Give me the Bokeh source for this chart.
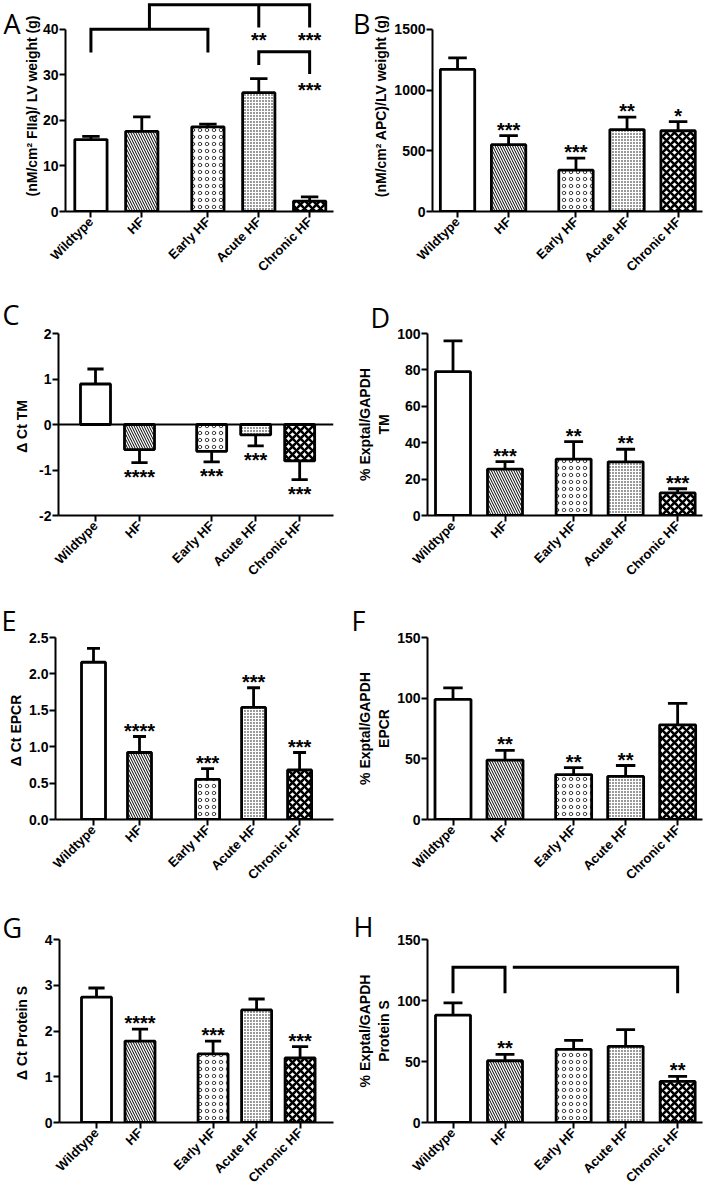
import math
from bokeh.plotting import figure
from bokeh.layouts import column, row
from bokeh.models import (FixedTicker, Span, ColumnDataSource, NumeralTickFormatter,
                          LinearAxis)
from bokeh.core.properties import value
from bokeh.embed import file_html
from bokeh.resources import INLINE

# ---------------- data ----------------
categories = ["Wildtype", "HF", "Early HF", "Acute HF", "Chronic HF"]

a_values = [15.8, 17.6, 18.6, 26.1, 2.3]
a_errors = [0.7, 3.2, 0.6, 3.1, 0.9]
a_stars = ["", "", "", "", ""]
a_bracket_stars = ["**", "***", "***"]

b_values = [1170, 550, 340, 675, 665]
b_errors = [95, 75, 100, 103, 75]
b_stars = ["", "***", "***", "**", "*"]

c_values = [0.89, -0.55, -0.59, -0.23, -0.80]
c_errors = [0.33, 0.29, 0.23, 0.24, 0.41]
c_stars = ["", "****", "***", "***", "***"]

d_values = [79, 25.5, 31, 29.5, 12.4]
d_errors = [17, 4.1, 9.6, 6.9, 2.3]
d_stars = ["", "***", "**", "**", "***"]

e_values = [2.16, 0.92, 0.55, 1.54, 0.68]
e_errors = [0.19, 0.22, 0.15, 0.27, 0.24]
e_stars = ["", "****", "***", "***", "***"]

f_values = [99, 49, 37, 35.5, 78]
f_errors = [9.5, 8, 5.7, 9, 17.7]
f_stars = ["", "**", "**", "**", ""]

g_values = [2.74, 1.78, 1.50, 2.46, 1.41]
g_errors = [0.20, 0.26, 0.28, 0.24, 0.25]
g_stars = ["", "****", "***", "", "***"]

h_values = [88, 50.6, 60, 62.4, 33.7]
h_errors = [10, 5.2, 7.3, 13.7, 4.1]
h_stars = ["", "**", "", "", "**"]

a_yticks = [0, 10, 20, 30, 40]
b_yticks = [0, 500, 1000, 1500]
c_yticks = [-2, -1, 0, 1, 2]
d_yticks = [0, 20, 40, 60, 80, 100]
e_yticks = [0, 0.5, 1.0, 1.5, 2.0, 2.5]
f_yticks = [0, 50, 100, 150]
g_yticks = [0, 1, 2, 3, 4]
h_yticks = [0, 50, 100, 150]

a_ylabel = "(nM/cm² FIIa)/ LV weight (g)"
b_ylabel = "(nM/cm² APC)/LV weight (g)"
c_ylabel = "Δ Ct  TM"
d_ylabel = "% Exptal/GAPDH\nTM"
e_ylabel = "Δ Ct  EPCR"
f_ylabel = "% Exptal/GAPDH\nEPCR"
g_ylabel = "Δ Ct  Protein S"
h_ylabel = "% Exptal/GAPDH\nProtein S"

# ---------------- styles ----------------
FONT = "Liberation Sans"
LETTER_FONT = "Open Sans"
LETTER_SIZE = "27px"
STAR_SIZE = "20px"
STYLE = {
    "Wildtype":   dict(hatch=" ",  scale=6, weight=1.0),
    "HF":         dict(hatch="\\", scale=5, weight=1.0),
    "Early HF":   dict(hatch="o",  scale=7, weight=0.7),
    "Acute HF":   dict(hatch=".",  scale=3, weight=0.5),
    "Chronic HF": dict(hatch="x",  scale=8, weight=2.6),
}
AXIS_PX = 183.0  # pixel height of the y axis in every panel


def make_panel(vals, errs, stars, ylabel, yticks, gap, pad_px, unit_px, bar_px,
               fig_w, fig_h, bl, br, bt, bb, label_standoff, fmt=None, zero_line=False):
    frame_w = fig_w - bl - br
    frame_h = fig_h - bt - bb
    pos = [0.0, 1.0, 1.0 + gap, 2.0 + gap, 3.0 + gap]
    x_lo = -pad_px / unit_px
    x_hi = x_lo + frame_w / unit_px
    ylo, ytop = yticks[0], yticks[-1]
    px_per_unit = AXIS_PX / (ytop - ylo)
    y_hi = ylo + frame_h / px_per_unit

    p = figure(width=fig_w, height=fig_h, x_range=(x_lo, x_hi), y_range=(ylo, y_hi),
               output_backend="svg", toolbar_location=None,
               min_border_left=bl, min_border_right=br, min_border_top=bt, min_border_bottom=bb)
    p.outline_line_color = None
    p.xgrid.visible = False
    p.ygrid.visible = False
    p.background_fill_color = "white"
    p.border_fill_color = "white"

    bw = bar_px / unit_px
    src = ColumnDataSource(dict(
        x=pos,
        top=[max(v, 0) for v in vals],
        bottom=[min(v, 0) for v in vals],
        hatch=[STYLE[c]["hatch"] for c in categories],
        hscale=[STYLE[c]["scale"] for c in categories],
        hweight=[STYLE[c]["weight"] for c in categories],
    ))
    p.vbar(x="x", top="top", bottom="bottom", width=bw, source=src,
           fill_color="white", line_color="black", line_width=2.8,
           hatch_pattern="hatch", hatch_scale="hscale", hatch_weight="hweight",
           hatch_color="black")

    ends = [v + e if v >= 0 else v - e for v, e in zip(vals, errs)]
    cw = bw * 0.27
    p.segment(x0=pos, y0=vals, x1=pos, y1=ends, line_color="black", line_width=2.8)
    p.segment(x0=[x - cw for x in pos], y0=ends, x1=[x + cw for x in pos], y1=ends,
              line_color="black", line_width=2.8)

    if zero_line:
        p.add_layout(Span(location=0, dimension="width", line_color="black", line_width=2))

    ssrc = ColumnDataSource(dict(x=pos, y=ends, t=stars,
                                 off=[-6 if v >= 0 else 14 for v in vals]))
    p.text(x="x", y="y", text="t", y_offset="off", source=ssrc,
           text_align="center", text_baseline="alphabetic",
           text_font=value(FONT), text_font_style="bold", text_font_size=STAR_SIZE,
           text_color="black")

    # axes
    p.xaxis.ticker = FixedTicker(ticks=pos)
    p.xaxis.major_label_overrides = {x: c for x, c in zip(pos, categories)}
    p.xaxis.major_label_orientation = math.pi / 4
    p.xaxis.major_label_text_font = FONT
    p.xaxis.major_label_text_font_style = "bold"
    p.xaxis.major_label_text_font_size = "13px"
    p.xaxis.major_label_standoff = 2
    p.xaxis.minor_tick_line_color = None

    p.yaxis.ticker = FixedTicker(ticks=yticks)
    p.yaxis.bounds = (ylo, ytop)
    p.yaxis.major_label_text_font = FONT
    p.yaxis.major_label_text_font_style = "bold"
    p.yaxis.major_label_text_font_size = "14px"
    p.yaxis.major_label_standoff = 1
    p.yaxis.minor_tick_line_color = None
    p.yaxis.axis_label = ylabel
    p.yaxis.axis_label_text_font = FONT
    p.yaxis.axis_label_text_font_style = "bold"
    p.yaxis.axis_label_text_font_size = "14px"
    p.yaxis.axis_label_standoff = label_standoff
    if fmt:
        p.yaxis.formatter = NumeralTickFormatter(format=fmt)
    if ylo < 0:
        p.yaxis.major_label_overrides = {t: ("-%d" % -t) for t in yticks if t < 0}

    for ax in (p.xaxis[0], p.yaxis[0]):
        ax.axis_line_width = 2
        ax.axis_line_color = "black"
        ax.major_tick_line_width = 2
        ax.major_tick_line_color = "black"
        ax.major_tick_out = 6
        ax.major_tick_in = 0
        ax.major_label_text_color = "black"
        ax.axis_label_text_color = "black"
    return p, pos, px_per_unit


def letter_axis(p, letter, yval):
    """panel letter as the only label of an extra, invisible left axis (row 1)"""
    ax = LinearAxis(ticker=FixedTicker(ticks=[yval]), major_label_overrides={yval: letter},
                    axis_line_color=None, major_tick_line_color=None,
                    minor_tick_line_color=None, major_tick_out=0, major_tick_in=0,
                    major_label_standoff=0, major_label_orientation="horizontal",
                    major_label_text_font=LETTER_FONT, major_label_text_font_size=LETTER_SIZE,
                    major_label_text_font_style="normal", major_label_text_color="black")
    p.add_layout(ax, "left")


def letter_title(p, letter, offset, standoff):
    p.title.text = letter
    p.title.align = "left"
    p.title.offset = offset
    p.title.standoff = standoff
    p.title.vertical_align = "bottom"
    p.title.text_font = LETTER_FONT
    p.title.text_font_size = LETTER_SIZE
    p.title.text_font_style = "normal"
    p.title.text_color = "black"


def bracket(p, xs, ys, width=3):
    p.multi_line(xs=xs, ys=ys, line_color="black", line_width=width, line_join="miter")


W1, W2 = 350, 355

# row 1 (figure height 282, frame from the very top)
pA, posA, kA = make_panel(a_values, a_errors, a_stars, a_ylabel, a_yticks,
                          1.3, 26, 52, 33, W1, 282, 59, 17, 0, 70, 0)
letter_axis(pA, "A", a_yticks[-1] + 15 / kA)
mid = (posA[0] + posA[2]) / 2
bracket(pA,
        [[posA[0], posA[0], posA[2], posA[2]],
         [mid, mid, posA[4], posA[4]],
         [posA[3], posA[3]],
         [posA[3], posA[3], posA[4], posA[4]]],
        [[34.9, 40.0, 40.0, 34.9],
         [40.0, 45.4, 45.4, 40.4],
         [45.4, 40.4],
         [32.2, 35.1, 35.1, 30.2]])
pA.text(x=[posA[3], posA[4], posA[4]], y=[40.4, 40.4, 30.2], text=a_bracket_stars,
        y_offset=[12, 12, 16], text_align="center", text_baseline="alphabetic",
        text_font=value(FONT), text_font_style="bold", text_font_size=STAR_SIZE)

pB, _, kB = make_panel(b_values, b_errors, b_stars, b_ylabel, b_yticks,
                       1.32, 25.5, 52, 35, W2, 282, 77, 3, 0, 70, 2)
letter_axis(pB, "B", b_yticks[-1] + 15 / kB)

# row 2 (height 304)
pC, _, _ = make_panel(c_values, c_errors, c_stars, c_ylabel, c_yticks,
                      1.64, 37, 44, 30, W1, 304, 58, 17, 51, 70, 6, zero_line=True)
letter_title(pC, "C", -56, 2)
pD, _, _ = make_panel(d_values, d_errors, d_stars, d_ylabel, d_yticks,
                      1.32, 25.5, 52, 35, W2, 304, 77, 3, 51, 70, 2)
letter_title(pD, "D", -57, -4)

# row 3 (height 304)
pE, _, _ = make_panel(e_values, e_errors, e_stars, e_ylabel, e_yticks,
                      1.48, 38, 46, 24, W1, 304, 55, 17, 51, 70, 2, fmt="0.0")
letter_title(pE, "E", -54, -2)
pF, _, _ = make_panel(f_values, f_errors, f_stars, f_ylabel, f_yticks,
                      1.32, 25.5, 52, 36, W2, 304, 77, 3, 51, 70, 2)
letter_title(pF, "F", -76, -2)

# row 4 (height 303)
pG, _, _ = make_panel(g_values, g_errors, g_stars, g_ylabel, g_yticks,
                      1.68, 37, 43.5, 30, W1, 303, 59, 17, 49, 71, 12)
letter_title(pG, "G", -57, -12)
pH, posH, _ = make_panel(h_values, h_errors, h_stars, h_ylabel, h_yticks,
                         1.32, 25.5, 52, 35, W2, 303, 77, 3, 49, 71, 2)
letter_title(pH, "H", -74, -10)
bracket(pH,
        [[posH[0], posH[0], posH[1], posH[1]],
         [posH[1] + 0.15, posH[4], posH[4]]],
        [[106.0, 127.3, 127.3, 106.0],
         [127.3, 127.3, 106.0]])

layout = column(row(pA, pB), row(pC, pD), row(pE, pF), row(pG, pH))
open("out.html", "w").write(file_html(layout, INLINE))
